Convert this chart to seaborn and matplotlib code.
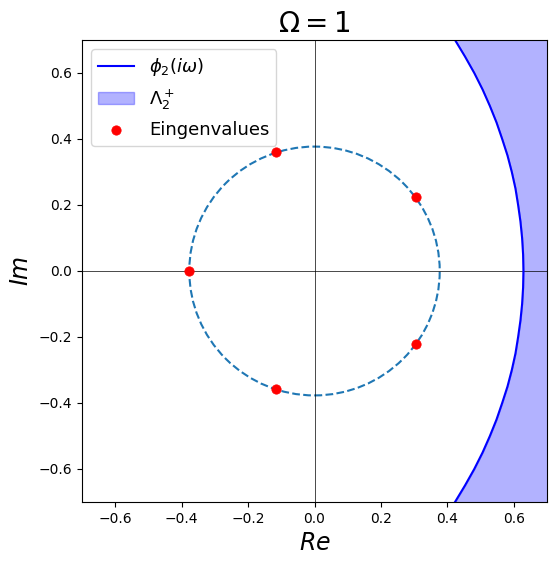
import numpy as np
import pandas as pd
import matplotlib
matplotlib.use("Agg")
import matplotlib.pyplot as plt
import seaborn as sns

# boundary curve phi_2(i*omega) (Re, Im)
curve_im = [-0.80, -0.75, -0.70, -0.65, -0.60, -0.55, -0.50, -0.45, -0.40, -0.35,
            -0.30, -0.25, -0.20, -0.15, -0.10, -0.05, 0.00, 0.05, 0.10, 0.15,
            0.20, 0.25, 0.30, 0.35, 0.40, 0.45, 0.50, 0.55, 0.60, 0.65,
            0.70, 0.75, 0.80]
curve_re = [0.351, 0.388, 0.423, 0.453, 0.481, 0.506, 0.528, 0.548, 0.565, 0.581,
            0.594, 0.605, 0.613, 0.620, 0.625, 0.628, 0.629, 0.628, 0.625, 0.620,
            0.613, 0.605, 0.594, 0.581, 0.565, 0.548, 0.528, 0.506, 0.481, 0.453,
            0.423, 0.388, 0.351]

# eigenvalues
eig_re = [-0.377, 0.305, 0.305, -0.115, -0.115]
eig_im = [0.0, 0.225, -0.220, 0.360, -0.357]

circle_radius = 0.377

curve = pd.DataFrame({'Re': curve_re, 'Im': curve_im})
eigs = pd.DataFrame({'Re': eig_re, 'Im': eig_im})

fig, ax = plt.subplots(figsize=(5.57, 5.64), dpi=100)
fig.subplots_adjust(left=82/557, right=547/557, top=1-40/564, bottom=1-502/564)

ax.axhline(0, color='black', linewidth=0.5)
ax.axvline(0, color='black', linewidth=0.5)

sns.lineplot(data=curve, x='Re', y='Im', sort=False, estimator=None,
             color='blue', linewidth=1.5, label=r'$\phi_2(i\omega)$', ax=ax)
ax.fill_betweenx(curve['Im'], curve['Re'], 1.0, color='blue', alpha=0.3,
                 linewidth=1, label=r'$\Lambda_2^+$')

circ = plt.Circle((0, 0), circle_radius, fill=False, linestyle='--',
                  color='tab:blue', linewidth=1.5)
ax.add_patch(circ)

sns.scatterplot(data=eigs, x='Re', y='Im', color='red', s=45,
                edgecolor='red', label='Eingenvalues', ax=ax, zorder=5)

ax.set_xlim(-0.7, 0.7)
ax.set_ylim(-0.7, 0.7)
ax.set_xticks([-0.6, -0.4, -0.2, 0.0, 0.2, 0.4, 0.6])
ax.set_yticks([-0.6, -0.4, -0.2, 0.0, 0.2, 0.4, 0.6])
ax.set_title(r'$\Omega = 1$', fontsize=20)
ax.set_xlabel(r'$Re$', fontsize=17)
ax.set_ylabel(r'$Im$', fontsize=17)
ax.legend(loc='upper left', fontsize=13)

fig.savefig('out.png', dpi=100)
